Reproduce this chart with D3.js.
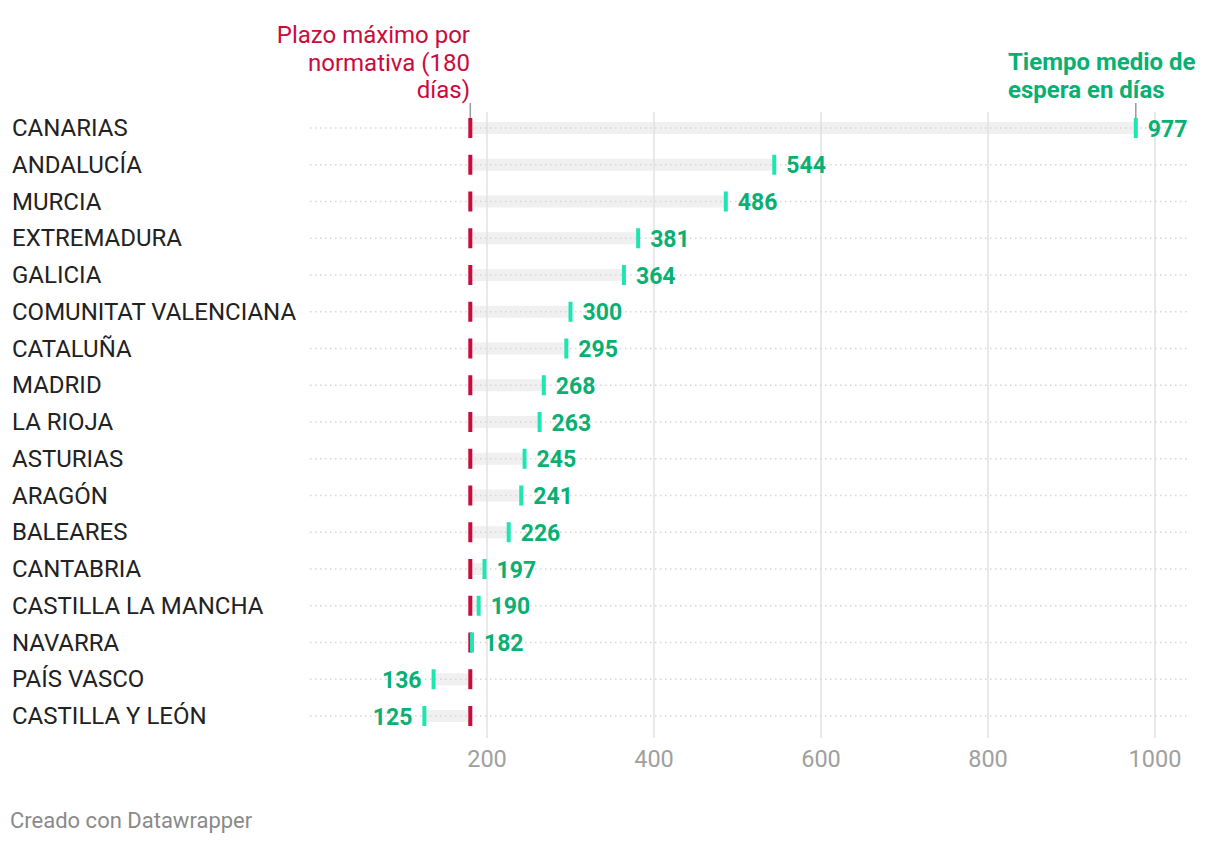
<!DOCTYPE html>
<html><head><meta charset="utf-8">
<script src="https://cdn.jsdelivr.net/npm/d3@7"></script>
<style>body{margin:0;background:#fff;font-family:Roboto,sans-serif;}</style>
</head><body><svg id="c" width="1220" height="844"></svg>
<script>
const regions = ["CANARIAS","ANDALUCÍA","MURCIA","EXTREMADURA","GALICIA","COMUNITAT VALENCIANA","CATALUÑA","MADRID","LA RIOJA","ASTURIAS","ARAGÓN","BALEARES","CANTABRIA","CASTILLA LA MANCHA","NAVARRA","PAÍS VASCO","CASTILLA Y LEÓN"];
const waitDays = [977,544,486,381,364,300,295,268,263,245,241,226,197,190,182,136,125];
const legalMax = 180;
const ticks = [200,400,600,800,1000];

const svg = d3.select("#c");
const x = d3.scaleLinear().domain([0,1000]).range([320,1155]);
const y = d3.scalePoint().domain(regions).range([128,716]);
const red = "#cc0a3c", aqua = "#1ee6b0", green = "#09b073";

const rows = svg.append("g").selectAll("g").data(regions).join("g")
  .attr("transform",d=>`translate(0,${y(d)})`);
rows.append("rect")
  .attr("x",(d,i)=>Math.min(x(legalMax),x(waitDays[i])))
  .attr("width",(d,i)=>Math.abs(x(waitDays[i])-x(legalMax)))
  .attr("y",-6).attr("height",12).attr("fill","#f0f0f0");

// gridlines
svg.append("g").selectAll("line").data(ticks).join("line")
  .attr("x1",d=>x(d)).attr("x2",d=>x(d)).attr("y1",112).attr("y2",738)
  .attr("stroke","#e2e2e2").attr("stroke-width",1.5);
// axis labels
svg.append("g").selectAll("text").data(ticks).join("text")
  .attr("x",d=>x(d)).attr("y",767).attr("text-anchor","middle")
  .attr("font-size",23.5).attr("fill","#a0a0a0").text(d=>d);

const rows2 = svg.append("g").selectAll("g").data(regions).join("g")
  .attr("transform",d=>`translate(0,${y(d)})`);
rows2.append("line").attr("x1",310).attr("x2",1188).attr("y1",0).attr("y2",0)
  .attr("stroke","#d6d6d6").attr("stroke-width",1.5).attr("stroke-dasharray","1.5,3.5");
rows2.append("text").attr("x",12).attr("y",8).attr("font-size",24).attr("fill","#222")
  .text(d=>d);
rows2.append("rect").attr("x",x(legalMax)-2).attr("width",4).attr("y",-10).attr("height",20).attr("fill",red);
rows2.append("rect").attr("x",(d,i)=>x(waitDays[i])-2).attr("width",4).attr("y",-10).attr("height",20).attr("fill",aqua);
rows2.append("text")
  .attr("x",(d,i)=>waitDays[i]>=legalMax ? x(waitDays[i])+12 : x(waitDays[i])-12)
  .attr("text-anchor",(d,i)=>waitDays[i]>=legalMax?"start":"end")
  .attr("y",8.5).attr("font-size",23).attr("font-weight",700).attr("fill",green)
  .text((d,i)=>waitDays[i]);

// annotations
const a1 = svg.append("text").attr("text-anchor","end").attr("font-size",24).attr("fill",red);
["Plazo máximo por","normativa (180","días)"].forEach((t,i)=>a1.append("tspan").attr("x",470).attr("y",43+i*27.5).text(t));
svg.append("line").attr("x1",x(legalMax)).attr("x2",x(legalMax)).attr("y1",103).attr("y2",118).attr("stroke","#999").attr("stroke-width",1.5);
const a2 = svg.append("text").attr("text-anchor","start").attr("font-size",24).attr("font-weight",700).attr("fill",green);
["Tiempo medio de","espera en días"].forEach((t,i)=>a2.append("tspan").attr("x",1008).attr("y",70+i*27.5).text(t));
svg.append("line").attr("x1",x(977)).attr("x2",x(977)).attr("y1",103).attr("y2",118).attr("stroke","#999").attr("stroke-width",1.5);

svg.append("text").attr("x",10).attr("y",828).attr("font-size",22).attr("fill","#8a8a8a").text("Creado con Datawrapper");
</script></body></html>
